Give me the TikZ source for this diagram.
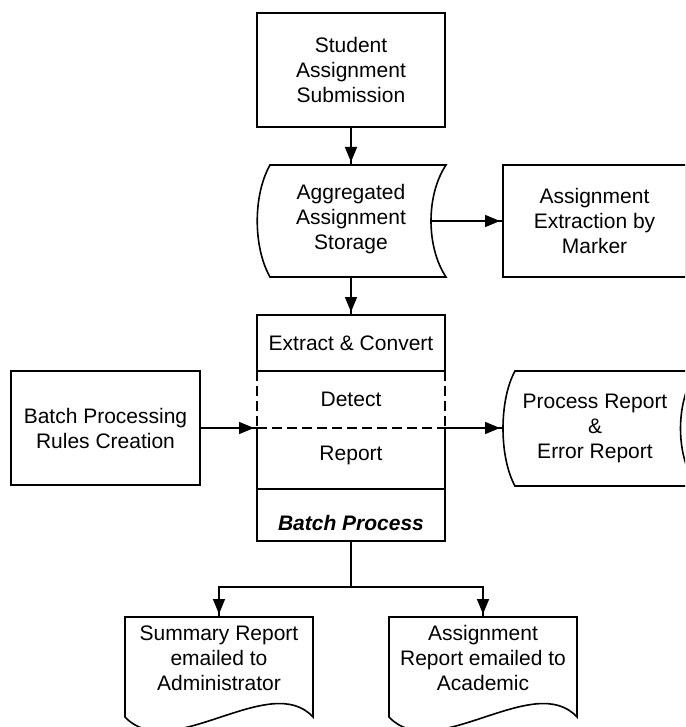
\documentclass[tikz,border=0pt]{standalone}
\usepackage{fontspec}
\setmainfont{Liberation Sans}
\usetikzlibrary{arrows.meta,decorations.markings}
\tikzset{
  ln/.style={line width=1.6pt},
  boxnode/.style={draw, ln, rectangle, inner sep=0pt, outer sep=0pt, align=center, font=\fontsize{21}{25}\selectfont},
  txt/.style={inner sep=0pt, outer sep=0pt, align=center, font=\fontsize{21}{25}\selectfont},
  frame/.style={inner sep=0pt, outer sep=0pt, draw=none, rectangle},
  conn/.style={ln, postaction={decorate}, decoration={markings, mark=at position -3pt with {\arrow{Triangle[length=15pt,width=12pt]}}}},
  dashline/.style={ln, dash pattern=on 10pt off 5pt}
}
\begin{document}
\begin{tikzpicture}[x=1pt,y=-1pt]
\useasboundingbox (0,0) rectangle (685,727);
\clip (0,0) rectangle (685,727);

% Student submission
\node[boxnode, minimum width=188pt, minimum height=114pt] (student) at (351,70) {Student\\Assignment\\Submission};

% Aggregated storage (stored data shape)
\node[frame, minimum width=190pt, minimum height=112pt] (store) at (351,221) {};
\draw[ln] (270,165) -- (446,165) .. controls (426,195) and (426,247) .. (446,277) -- (270,277) .. controls (253,247) and (253,195) .. (270,165) -- cycle;
\node[txt] (storetext) at (351,219) {Aggregated\\Assignment\\Storage};
\coordinate (storeE) at (431,221);

% Extraction by marker
\node[boxnode, minimum width=183pt, minimum height=112pt] (extract) at (594.5,221) {Assignment\\Extraction by\\Marker};

% Batch process box
\node[frame, minimum width=188pt, minimum height=226pt] (proc) at (351,428) {};
\draw[ln] (257,371) -- (257,315) -- (445,315) -- (445,371) -- cycle;
\draw[ln] (257,428) -- (257,541) -- (445,541) -- (445,428);
\draw[ln] (257,489) -- (445,489);
\draw[dashline] (257,371) -- (257,428);
\draw[dashline] (445,371) -- (445,428);
\draw[dashline] (257,428) -- (445,428);
\node[txt, anchor=base] (tconv) at (351,350) {Extract \& Convert};
\node[txt, anchor=base] (tdet) at (351,406.5) {Detect};
\node[txt, anchor=base] (trep) at (351,460) {Report};
\node[txt, anchor=base] (tbatch) at (351,530) {\bfseries\itshape Batch Process};

% Rules creation
\node[boxnode, minimum width=189pt, minimum height=114pt] (rules) at (105.5,428) {Batch Processing\\Rules Creation};

% Process report (stored data shape)
\node[frame, minimum width=182pt, minimum height=115pt] (prep) at (600,428.5) {};
\draw[ln] (515,371) -- (697,371) .. controls (675,400) and (675,457) .. (697,486) -- (515,486) .. controls (499,457) and (499,400) .. (515,371) -- cycle;
\node[txt] (preptext) at (595,428) {Process Report\\\&\\Error Report};
\coordinate (prepW) at (503,428);

% Documents
\draw[ln] (125,617) -- (313,617) -- (313,717) .. controls (270,670) and (170,765) .. (125,717) -- cycle;
\node[txt] (sumtext) at (219,658) {Summary Report\\emailed to\\Administrator};
\coordinate (sumN) at (219,617);
\draw[ln] (389,617) -- (577,617) -- (577,717) .. controls (534,670) and (434,765) .. (389,717) -- cycle;
\node[txt] (acadtext) at (483,658) {Assignment\\Report emailed to\\Academic};
\coordinate (acadN) at (483,617);
\coordinate (split) at (351,587);

% Connectors
\draw[conn] (student) -- (store);
\draw[conn] (storeE) -- (extract.west);
\draw[conn] (store) -- (proc);
\draw[conn] (rules) -- (proc);
\draw[conn] (proc.east) -- (prepW);
\draw[ln] (proc.south) -- (split);
\draw[conn] (split) -| (sumN);
\draw[conn] (split) -| (acadN);
\end{tikzpicture}
\end{document}
